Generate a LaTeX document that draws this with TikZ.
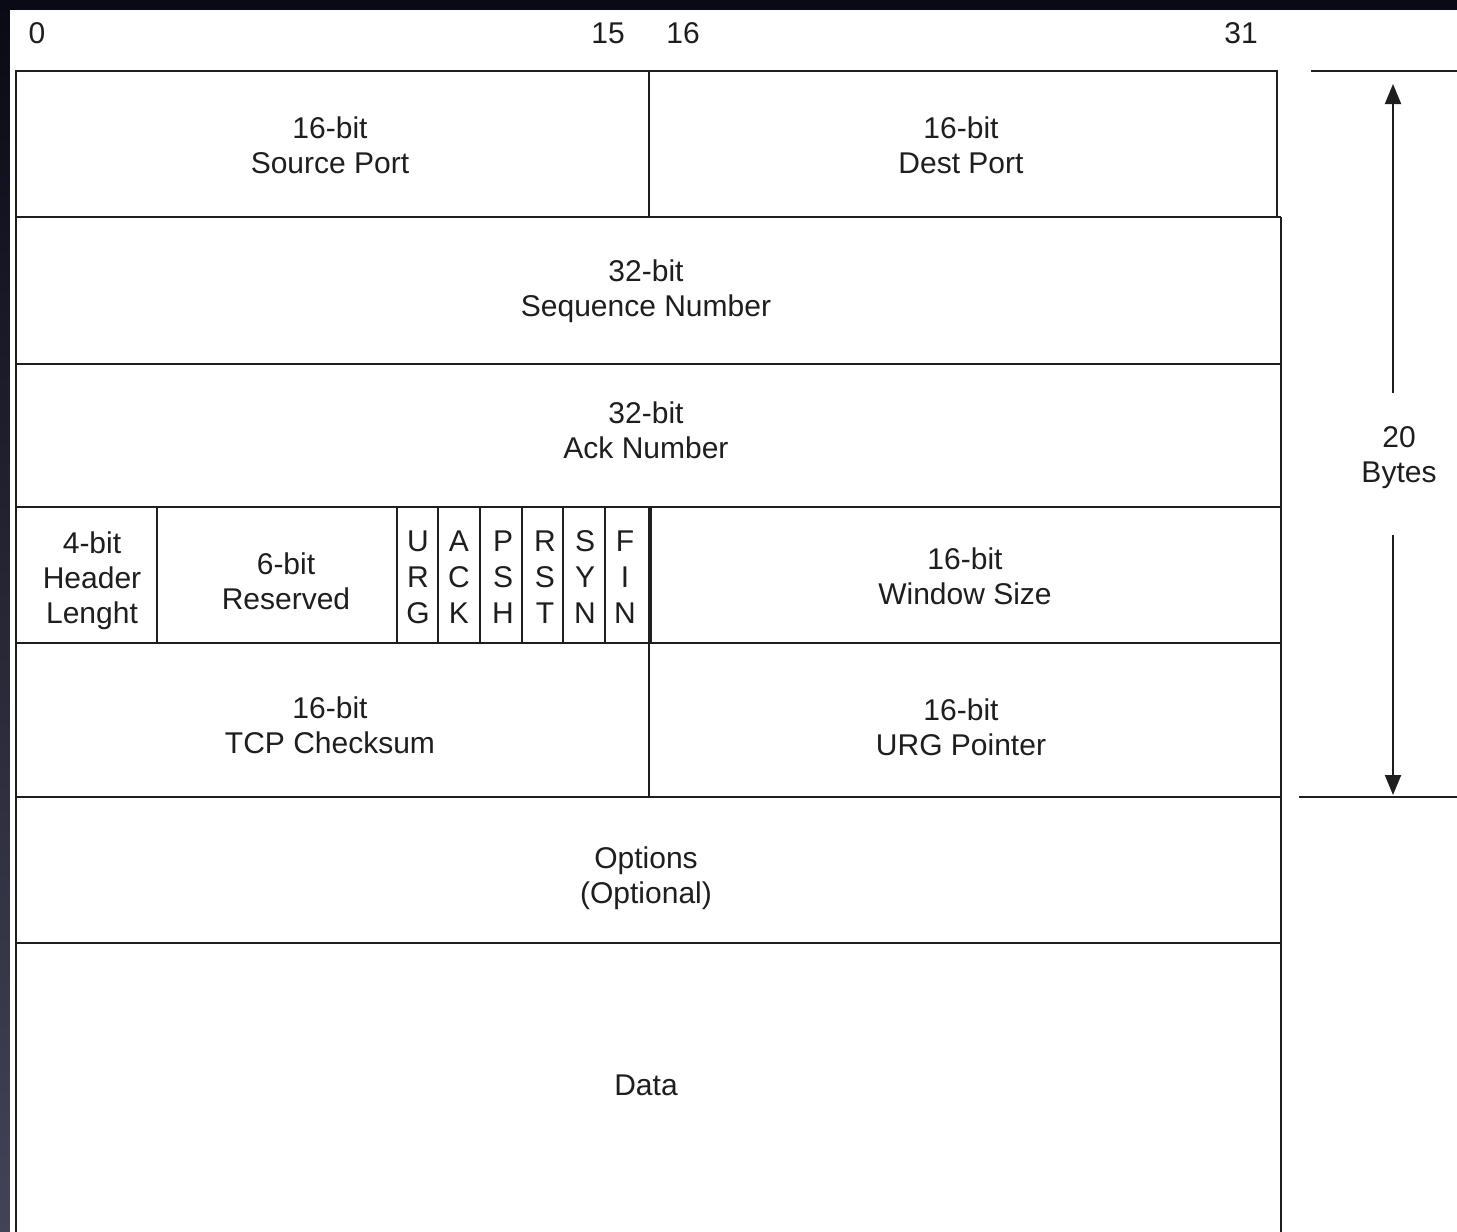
\documentclass[tikz,border=0pt]{standalone}
\usepackage{fontspec}
\setmainfont{Liberation Sans}
\usetikzlibrary{arrows.meta}
\definecolor{bgtop}{HTML}{0A0A16}
\definecolor{bgleft}{HTML}{434358}
\definecolor{ink}{HTML}{1E1E1E}
\begin{document}
\begin{tikzpicture}[x=0.5pt,y=-0.5pt,
  grid/.style={draw=ink,line width=1pt},
  lbl/.style={font=\fontsize{15}{17.5}\selectfont,text=ink,align=center,inner sep=0pt},
  flag/.style={font=\fontsize{15}{18}\selectfont,text=ink,align=center,inner sep=0pt},
  dim/.style={draw=ink,line width=1pt,-{Triangle[length=10pt,width=8pt]}}]
\useasboundingbox (0,0) rectangle (1457,1232);
\fill[bgtop] (0,0) rectangle (1457,1232);
\shade[top color=bgtop,bottom color=bgleft] (0,0) rectangle (10,1232);
\fill[white] (10,10) rectangle (1457,1232);
% bit numbers
\node[lbl] (b0) at (37,33) {0};
\node[lbl] (b15) at (608,33) {15};
\node[lbl] (b16) at (683,33) {16};
\node[lbl] (b31) at (1241,33) {31};
% frame and rows
\draw[grid] (16,1232) -- (16,71) -- (1277,71) -- (1277,217);
\draw[grid] (16,217) -- (1281,217);
\draw[grid] (1281,217) -- (1281,1232);
\foreach \y in {364,507,643,797,943} \draw[grid] (16,\y) -- (1281,\y);
\draw[grid] (649,71) -- (649,217);
\draw[grid] (649,643) -- (649,797);
\foreach \x in {157,397,438,480,522,563,605} \draw[grid] (\x,507) -- (\x,643);
\draw[grid,line width=1.7pt] (650,507) -- (650,643);
% fields
\node[lbl] (src) at (330,145) {16-bit\\Source Port};
\node[lbl] (dst) at (961,145) {16-bit\\Dest Port};
\node[lbl] (seq) at (646,291) {32-bit\\Sequence Number};
\node[lbl] (ack) at (646,430) {32-bit\\Ack Number};
\node[lbl] (hlen) at (92,581) {4-bit\\Header\\Lenght};
\node[lbl] (res) at (286,581) {6-bit\\Reserved};
\node[flag] (urg) at (418,577) {U\\R\\G};
\node[flag] (ackf) at (459,577) {A\\C\\K};
\node[flag] (psh) at (503,577) {P\\S\\H};
\node[flag] (rst) at (545,577) {R\\S\\T};
\node[flag] (syn) at (585,577) {S\\Y\\N};
\node[flag] (fin) at (625,577) {F\\I\\N};
\node[lbl] (win) at (965,576) {16-bit\\Window Size};
\node[lbl] (chk) at (330,725) {16-bit\\TCP Checksum};
\node[lbl] (urgp) at (961,727) {16-bit\\URG Pointer};
\node[lbl] (opt) at (646,878) {Options\\(Optional)};
\node[lbl] (data) at (646,1085) {Data};
% 20 bytes dimension
\draw[grid] (1311,71) -- (1457,71);
\draw[grid] (1299,797) -- (1457,797);
\node[lbl] (bytes) at (1399,458) {20\\Bytes};
\coordinate (btop) at (1393,71);
\coordinate (bbot) at (1393,797);
\draw[dim,shorten <=17pt,shorten >=6.5pt] (bytes.north -| btop) -- (btop);
\draw[dim,shorten <=23pt,shorten >=1pt] (bytes.south -| bbot) -- (bbot);
\end{tikzpicture}
\end{document}
